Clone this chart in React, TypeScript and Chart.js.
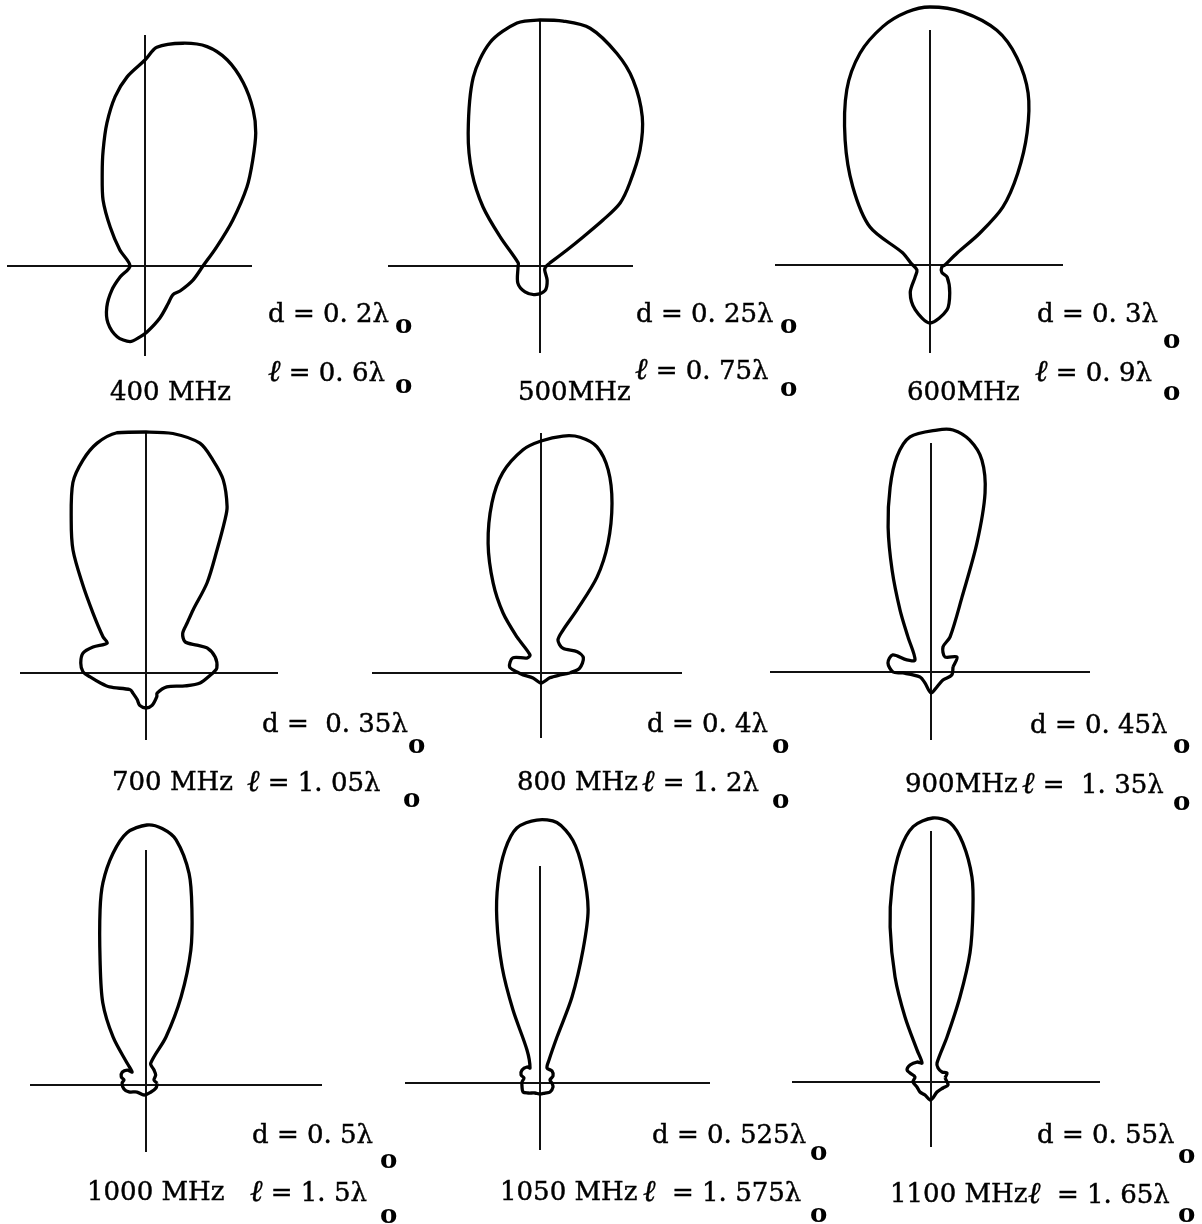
import React, { useEffect, useRef } from "react";
import { Chart, registerables } from "chart.js";

Chart.register(...registerables);

// Radiation patterns: [angle in degrees (CCW from +x), relative field magnitude],
// listed in order along each traced contour.
const pattern400 = [
  [0, 58], [14.8, 74], [27.6, 99], [37.8, 129], [44.5, 151], [50.2, 173], [55.3, 190],
  [61.8, 208], [68.3, 222], [74.2, 228], [80.3, 226], [86.9, 219], [90, 206], [95.4, 190],
  [100, 172], [104.9, 148], [109.9, 123], [114.8, 102], [122.5, 78], [131.9, 52], [147.4, 30],
  [180, 15], [203.7, 27], [216, 41], [227, 56], [237, 68], [248.5, 76], [258.8, 77],
  [266, 71], [271.7, 66], [286, 54], [302, 44], [314, 40], [324.5, 43], [343.7, 50],
];
const pattern500 = [
  [16.7, 10], [30.6, 31], [34, 52], [36.1, 78], [38.2, 102], [42.7, 122], [49.2, 153],
  [55.6, 181], [63.4, 208], [70.1, 226], [78.1, 243], [84.6, 246], [90, 246], [95.4, 244],
  [102.6, 229], [109.5, 200], [118.4, 151], [126.2, 115], [134, 82], [144, 49], [172, 22],
  [182.6, 22], [217.7, 28], [240, 30], [260, 29], [281.8, 25], [296.6, 16], [321, 6], [355, 6],
];
const pattern600 = [
  [0, 15], [24, 30], [32.6, 59], [38.5, 93], [46.3, 127], [53.7, 164], [60.3, 198],
  [67.3, 225], [74.1, 244], [82.6, 255], [90, 258], [95.2, 254], [101.2, 243], [108.3, 223],
  [115.4, 194], [124.2, 151], [134.6, 110], [147.7, 71], [156, 30], [175, 19], [201, 14],
  [218.7, 19], [234.5, 34], [251.6, 47], [270, 58], [290.7, 48], [305.5, 34], [324.8, 21],
  [328, 14], [350.5, 12],
];
const pattern700 = [
  [0, 67], [4, 71], [13, 71], [22.3, 66], [28.8, 58], [38.5, 50], [47.2, 54], [50.6, 65],
  [53.3, 79], [55.9, 109], [60, 142], [62.7, 172], [64, 185], [68.2, 208], [72.5, 223],
  [76.8, 236], [83.6, 241], [90, 241], [96.9, 242], [102, 235], [106.5, 222], [111, 204],
  [116.1, 170], [120.7, 143], [125.4, 110], [131.5, 80], [140, 56], [142.4, 49], [153.9, 59],
  [162.4, 66], [171.3, 66], [179, 63], [184, 56], [192, 47], [201, 39], [226.7, 23],
  [237, 24], [251.6, 28], [259, 33], [270, 35], [280.6, 33], [294.6, 26], [298.8, 23],
  [326.3, 25], [341.6, 41], [349.5, 55],
];
const pattern800 = [
  [0, 29], [7.3, 39], [19.7, 45], [30.3, 42], [48.7, 33], [62.7, 37], [62.9, 48], [60.3, 73],
  [59.7, 111], [62.7, 146], [67.3, 184], [71.7, 214], [76.1, 233], [80.6, 239], [84.7, 238],
  [90, 232], [94.6, 224], [100.8, 204], [106.1, 177], [112.2, 140], [118, 102], [122.3, 71],
  [123.7, 43], [121.4, 21], [133, 20.5], [151.8, 32], [169, 32], [177.6, 24], [186, 18],
  [212, 9.4], [270, 10], [331, 10], [354, 19],
];
const pattern900 = [
  [12.8, 22.6], [30, 30], [47, 20.5], [64.4, 27.7], [61.5, 40], [67.5, 81], [70.4, 137],
  [73.2, 187], [76.5, 218], [80.5, 235], [84.8, 243], [88.6, 242], [95.1, 236], [99, 218],
  [102.5, 189], [106.5, 151], [110.9, 109], [116.6, 69], [123.3, 42], [143, 20], [153.4, 27],
  [155.9, 42], [168, 44], [180, 38], [182, 28], [204, 12], [241, 12.5], [270, 21], [292, 16],
  [326, 14.4], [352, 21],
];
const pattern1000 = [
  [8.6, 11.4], [32, 9.4], [45.9, 13.9], [62, 17], [77.8, 22.2], [67.4, 52], [68.3, 95],
  [71.6, 142], [75.3, 181], [78.5, 216], [83, 247], [86.4, 257], [89.8, 260], [94.3, 253],
  [98.1, 234], [102, 207], [104.7, 181], [110.2, 133], [117.7, 93], [124.5, 58], [130.8, 29],
  [137, 19], [141.7, 24], [151.6, 27], [162, 26], [167, 22.6], [175, 24], [190, 22.4],
  [202, 18.4], [218, 11.4], [259, 10.2], [305.5, 8.6], [343, 10.4],
];
const pattern1050 = [
  [0, 12], [16.7, 10.4], [28.3, 14.8], [45, 17], [65, 16.6], [68.6, 24.7], [69.7, 49],
  [69.6, 92], [72.1, 140], [74.5, 180], [78.6, 217], [82.3, 245], [86.3, 261], [90.7, 263],
  [95.2, 256], [98.5, 236], [101.9, 204], [104.8, 169], [108.1, 122], [110.3, 78],
  [111.5, 35.5], [123.7, 18], [129, 20.6], [144, 22.2], [157, 20.6], [162.6, 16.8],
  [176.8, 18], [192.5, 18.4], [208, 19.2], [219.8, 15.6], [243.4, 11.2], [270, 11],
  [296.6, 11.2], [318, 13.5], [343, 13.6],
];
const pattern1100 = [
  [16, 14.6], [29.4, 18.4], [42.3, 14.9], [63.4, 15.7], [72.5, 20], [70.4, 48], [71.2, 90],
  [73.2, 135], [76.3, 177], [78.7, 209], [82.4, 241], [85.8, 260], [89.6, 264], [94, 256],
  [97.6, 234], [101.3, 199], [104.8, 160], [108.9, 111], [111.8, 70], [113.6, 35],
  [115.3, 21], [125, 24.4], [141, 27], [153.4, 26.8], [156.8, 22.8], [162.6, 16.8], [180, 18],
  [199.7, 14.9], [222.3, 14.9], [245.2, 14.3], [266.8, 18], [277, 16.1], [301, 11.7],
  [333.4, 13.4], [350, 17.3],
];

const patterns = [
  pattern400, pattern500, pattern600, pattern700, pattern800,
  pattern900, pattern1000, pattern1050, pattern1100,
];

// Caption texts
const frequencyLabels = [
  "400 MHz", "500MHz", "600MHz", "700 MHz", "800 MHz",
  "900MHz", "1000 MHz", "1050 MHz", "1100 MHz",
];
const spacingLabels = [
  "d = 0. 2λ", "d = 0. 25λ", "d = 0. 3λ", "d =  0. 35λ", "d = 0. 4λ",
  "d = 0. 45λ", "d = 0. 5λ", "d = 0. 525λ", "d = 0. 55λ",
];
const lengthLabels = [
  "ℓ = 0. 6λ", "ℓ = 0. 75λ", "ℓ = 0. 9λ", "ℓ = 1. 05λ", "ℓ = 1. 2λ",
  "ℓ =  1. 35λ", "ℓ = 1. 5λ", "ℓ  = 1. 575λ", "ℓ  = 1. 65λ",
];

// Panel geometry: origin on the page and reach of each axis arm (px)
const panelLayout = [
  { ox: 145, oy: 266, left: 138, right: 107, up: 231, down: 90 },
  { ox: 540, oy: 266, left: 152, right: 93, up: 246, down: 87 },
  { ox: 930, oy: 265, left: 155, right: 133, up: 235, down: 88 },
  { ox: 146, oy: 673, left: 126, right: 132, up: 241, down: 67 },
  { ox: 541, oy: 673, left: 169, right: 141, up: 240, down: 65 },
  { ox: 931, oy: 672, left: 161, right: 159, up: 229, down: 68 },
  { ox: 146, oy: 1085, left: 116, right: 176, up: 235, down: 67 },
  { ox: 540, oy: 1083, left: 135, right: 170, up: 217, down: 67 },
  { ox: 931, oy: 1082, left: 139, right: 169, up: 251, down: 65 },
];

// Caption placement: [x, baseline] for each text item
const captionLayout = [
  { d: [268, 322], dSub: [395, 333], l: [268, 380], lSub: [395, 393], f: [110, 400] },
  { d: [636, 322], dSub: [780, 333], l: [635, 378], lSub: [780, 396], f: [518, 400] },
  { d: [1037, 322], dSub: [1163, 348], l: [1035, 380], lSub: [1163, 400], f: [907, 400] },
  { d: [262, 732], dSub: [408, 753], l: [247, 790], lSub: [403, 807], f: [112, 790] },
  { d: [647, 732], dSub: [772, 753], l: [642, 790], lSub: [772, 808], f: [517, 790] },
  { d: [1030, 733], dSub: [1173, 753], l: [1022, 792], lSub: [1173, 810], f: [905, 792] },
  { d: [252, 1143], dSub: [380, 1168], l: [250, 1200], lSub: [380, 1223], f: [87, 1200] },
  { d: [652, 1143], dSub: [810, 1160], l: [643, 1200], lSub: [810, 1222], f: [500, 1200] },
  { d: [1037, 1143], dSub: [1178, 1163], l: [1028, 1202], lSub: [1178, 1222], f: [890, 1202] },
];

const PAD = 60;
const FONT = '"DejaVu Serif", "Liberation Serif", serif';
const SCRIPT_L_FONT = '"Liberation Serif", "DejaVu Serif", serif';
const FONT_SIZE = 26;

function crossAxis(min: number, max: number) {
  return {
    type: "linear" as const,
    min,
    max,
    display: true,
    afterBuildTicks: (axis: any) => {
      axis.ticks = [{ value: 0 }];
    },
    ticks: { display: false },
    grid: { display: true, drawTicks: false, color: "#111", lineWidth: 2 },
    border: { display: false },
  };
}

function PatternPanel({ index }: { index: number }) {
  const ref = useRef<HTMLCanvasElement | null>(null);
  const g = panelLayout[index];
  const width = g.left + g.right + 2 * PAD;
  const height = g.up + g.down + 2 * PAD;

  useEffect(() => {
    if (!ref.current) return;
    const pts = patterns[index].map(([deg, mag]) => ({
      x: mag * Math.cos((deg * Math.PI) / 180),
      y: mag * Math.sin((deg * Math.PI) / 180),
    }));
    pts.push({ ...pts[0] });
    const chart = new Chart(ref.current, {
      type: "scatter",
      data: {
        datasets: [
          {
            data: pts,
            showLine: true,
            borderColor: "#000",
            borderWidth: 3.3,
            pointRadius: 0,
            tension: 0.3,
            fill: false,
            clip: false as any,
          },
        ],
      },
      options: {
        responsive: false,
        maintainAspectRatio: false,
        animation: false,
        events: [],
        layout: { padding: PAD },
        plugins: { legend: { display: false }, tooltip: { enabled: false } },
        scales: {
          x: crossAxis(-g.left, g.right),
          y: crossAxis(-g.down, g.up),
        },
      },
    });
    return () => chart.destroy();
  }, [index]);

  return (
    <canvas
      ref={ref}
      width={width}
      height={height}
      style={{
        position: "absolute",
        left: g.ox - g.left - PAD,
        top: g.oy - g.up - PAD,
        width,
        height,
      }}
    />
  );
}

function Caption({ text, at, bold }: { text: string; at: number[]; bold?: boolean }) {
  // the script ell is set in a face whose glyph reaches full ascender height
  const parts = text.split(/(ℓ)/).filter((p) => p.length > 0);
  return (
    <div
      style={{
        position: "absolute",
        left: at[0],
        top: at[1] - Math.round(FONT_SIZE * 0.846),
        fontFamily: FONT,
        fontSize: FONT_SIZE,
        lineHeight: `${FONT_SIZE}px`,
        fontWeight: bold ? 700 : 400,
        whiteSpace: "pre",
        color: "#000",
        WebkitTextStroke: bold ? "0px" : "0.45px #000",
      }}
    >
      {parts.map((p, i) =>
        p === "ℓ" ? (
          <span key={i} style={{ fontFamily: SCRIPT_L_FONT, fontSize: 30, fontStyle: "italic" }}>
            {p}
          </span>
        ) : (
          <span key={i}>{p}</span>
        )
      )}
    </div>
  );
}

export default function App() {
  return (
    <div
      style={{
        position: "absolute",
        left: 0,
        top: 0,
        width: 1202,
        height: 1224,
        background: "#fff",
        overflow: "hidden",
      }}
    >
      {panelLayout.map((_, i) => (
        <PatternPanel key={`p${i}`} index={i} />
      ))}
      {captionLayout.map((c, i) => (
        <React.Fragment key={`c${i}`}>
          <Caption text={spacingLabels[i]} at={c.d} />
          <Caption text="o" at={c.dSub} bold />
          <Caption text={lengthLabels[i]} at={c.l} />
          <Caption text="o" at={c.lSub} bold />
          <Caption text={frequencyLabels[i]} at={c.f} />
        </React.Fragment>
      ))}
    </div>
  );
}
